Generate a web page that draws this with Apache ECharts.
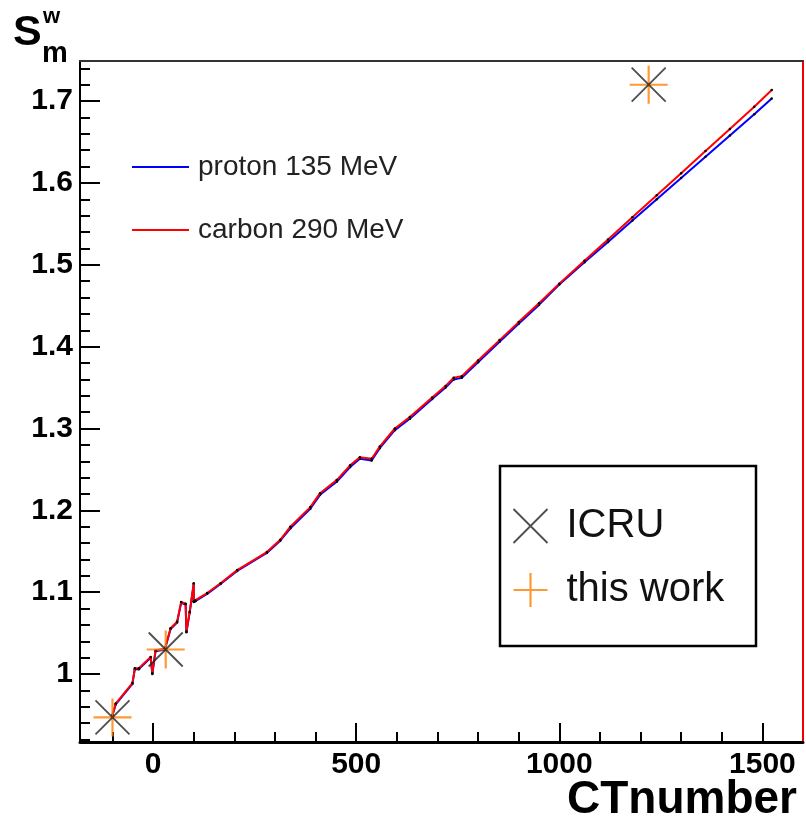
<!DOCTYPE html>
<html>
<head>
<meta charset="utf-8">
<script src="https://cdn.jsdelivr.net/npm/echarts@6/dist/echarts.min.js"></script>
<style>html,body{margin:0;padding:0;background:#fff}#c{width:806px;height:821px}</style>
</head>
<body>
<div id="c"></div>
<script>
// ---- data ----
const ctNumber = [-100, -92, -51, -45, -35, -6, -2, 6, 29, 43, 59, 69, 80, 82, 90, 100, 100, 104, 133, 166, 207, 280, 313, 338, 387, 411, 452, 485, 509, 538, 558, 595, 632, 687, 720, 740, 760, 800, 853, 900, 950, 1000, 1062, 1120, 1180, 1240, 1300, 1360, 1420, 1480, 1523];
const carbon290 = [0.950, 0.964, 0.989, 1.007, 1.007, 1.021, 1.001, 1.029, 1.031, 1.056, 1.064, 1.088, 1.086, 1.052, 1.076, 1.111, 1.089, 1.090, 1.099, 1.111, 1.127, 1.149, 1.164, 1.180, 1.204, 1.221, 1.237, 1.255, 1.265, 1.263, 1.278, 1.300, 1.314, 1.338, 1.352, 1.362, 1.364, 1.383, 1.408, 1.430, 1.453, 1.477, 1.505, 1.531, 1.558, 1.585, 1.612, 1.639, 1.666, 1.693, 1.7136];
const proton135 = [0.950, 0.963, 0.988, 1.006, 1.006, 1.020, 1.000, 1.028, 1.030, 1.055, 1.063, 1.087, 1.085, 1.051, 1.075, 1.110, 1.088, 1.089, 1.098, 1.110, 1.126, 1.148, 1.163, 1.178, 1.202, 1.219, 1.235, 1.253, 1.263, 1.261, 1.276, 1.298, 1.312, 1.336, 1.350, 1.360, 1.362, 1.381, 1.406, 1.428, 1.451, 1.476, 1.503, 1.528, 1.554, 1.580, 1.606, 1.632, 1.658, 1.684, 1.7033];
const icruCT = [-100, 31, 1220];
const icruSw = [0.947, 1.030, 1.720];
const thisWorkCT = [-100, 31, 1220];
const thisWorkSw = [0.947, 1.030, 1.720];
const xMajorTicks = [0, 500, 1000, 1500];
const yMajorTicks = [1.0, 1.1, 1.2, 1.3, 1.4, 1.5, 1.6, 1.7];

const xMinorTicks = [];
for (let v = -100; v <= 1500; v += 100) if (v % 500 !== 0) xMinorTicks.push(v);
const yMinorTicks = [];
for (let k = 46; k <= 87; k++) { if (k % 5 !== 0) yMinorTicks.push(+(k * 0.02).toFixed(2)); }

const zip = (a, b) => a.map((v, i) => [v, b[i]]);

const X_PATH = 'path://M0,0L10,10M10,0L0,10';
const PLUS_PATH = 'path://M5,0L5,10M0,5L10,5';

const chart = echarts.init(document.getElementById('c'), null, {renderer: 'canvas'});
const FONT = '"Liberation Sans", Arial, Helvetica, sans-serif';
const XMIN = -180, XMAX = 1600, YMIN = 0.917, YMAX = 1.749;

chart.setOption({
  animation: false,
  backgroundColor: '#fff',
  grid: {left: 80, right: 3, top: 61, bottom: 79, containLabel: false},
  xAxis: [
    { type: 'value', min: XMIN, max: XMAX, position: 'bottom',
      axisLine: {show: true, onZero: false, lineStyle: {color: '#000', width: 3}},
      axisTick: {show: true, inside: true, length: 19, customValues: xMajorTicks, lineStyle: {color: '#000', width: 2}},
      axisLabel: {show: true, customValues: xMajorTicks, margin: 8, fontFamily: FONT, fontWeight: 'bold', fontSize: 30, color: '#000',
        formatter: v => String(Math.round(v))},
      splitLine: {show: false} },
    { type: 'value', min: XMIN, max: XMAX, position: 'bottom', gridIndex: 0,
      axisLine: {show: false, onZero: false},
      axisTick: {show: true, inside: true, length: 10, customValues: xMinorTicks, lineStyle: {color: '#000', width: 2}},
      axisLabel: {show: false}, splitLine: {show: false} },
    { type: 'value', min: XMIN, max: XMAX, position: 'top',
      axisLine: {show: true, onZero: false, lineStyle: {color: '#333', width: 2}},
      axisTick: {show: false}, axisLabel: {show: false}, splitLine: {show: false} }
  ],
  yAxis: [
    { type: 'value', min: YMIN, max: YMAX, position: 'left',
      axisLine: {show: true, onZero: false, lineStyle: {color: '#000', width: 2}},
      axisTick: {show: true, inside: true, length: 20, customValues: yMajorTicks, lineStyle: {color: '#000', width: 2}},
      axisLabel: {show: true, customValues: yMajorTicks, margin: 7, fontFamily: FONT, fontWeight: 'bold', fontSize: 30, color: '#000',
        formatter: v => String(+v.toFixed(2))},
      splitLine: {show: false} },
    { type: 'value', min: YMIN, max: YMAX, position: 'left',
      axisLine: {show: false, onZero: false},
      axisTick: {show: true, inside: true, length: 10, customValues: yMinorTicks, lineStyle: {color: '#000', width: 2}},
      axisLabel: {show: false}, splitLine: {show: false} },
    { type: 'value', min: YMIN, max: YMAX, position: 'right',
      axisLine: {show: true, onZero: false, lineStyle: {color: '#e00', width: 2}},
      axisTick: {show: false}, axisLabel: {show: false}, splitLine: {show: false} }
  ],
  legend: [
    { orient: 'vertical', left: 127, top: 147, itemWidth: 57, itemHeight: 2, itemGap: 33,
      textStyle: {fontFamily: FONT, fontSize: 28, color: '#222', lineHeight: 30, padding: [0, 0, 0, 4]},
      data: [
        {name: 'proton 135 MeV', icon: 'rect', itemStyle: {color: '#0000ff', borderWidth: 0}},
        {name: 'carbon 290 MeV', icon: 'rect', itemStyle: {color: '#ff0000', borderWidth: 0}}
      ] },
    { orient: 'vertical', left: 506, top: 501, itemWidth: 36, itemHeight: 34, itemGap: 24,
      textStyle: {fontFamily: FONT, fontSize: 40, color: '#111', lineHeight: 40, padding: [0, 0, 0, 13]},
      data: [
        {name: 'ICRU', icon: X_PATH, itemStyle: {color: 'none', borderColor: '#222', borderWidth: 1.8}},
        {name: 'this work', icon: PLUS_PATH, itemStyle: {color: 'none', borderColor: '#ff8000', borderWidth: 2.2}}
      ] }
  ],
  graphic: [
    {type: 'rect', shape: {x: 500, y: 466, width: 256, height: 180}, style: {fill: 'none', stroke: '#000', lineWidth: 2.5}, z: 1},
    {type: 'text', left: 13, top: 12, style: {text: 'S', font: 'bold 43px ' + FONT, fill: '#000'}},
    {type: 'text', left: 43, top: 6, style: {text: 'w', font: 'bold 22px ' + FONT, fill: '#000'}},
    {type: 'text', left: 42, top: 39, style: {text: 'm', font: 'bold 29px ' + FONT, fill: '#000'}},
    {type: 'text', right: 9, top: 777, style: {text: 'CTnumber', font: 'bold 46px ' + FONT, fill: '#000'}}
  ],
  series: [
    { name: 'proton 135 MeV', type: 'line', xAxisIndex: 0, yAxisIndex: 0, data: zip(ctNumber, proton135),
      symbol: 'circle', symbolSize: 2.5, showSymbol: true, itemStyle: {color: '#000'},
      lineStyle: {color: '#0000ff', width: 2}, z: 3 },
    { name: 'carbon 290 MeV', type: 'line', xAxisIndex: 0, yAxisIndex: 0, data: zip(ctNumber, carbon290),
      symbol: 'circle', symbolSize: 2.5, showSymbol: true, itemStyle: {color: '#000'},
      lineStyle: {color: '#ff0000', width: 2}, z: 4 },
    { name: 'this work', type: 'scatter', xAxisIndex: 0, yAxisIndex: 0, data: zip(thisWorkCT, thisWorkSw),
      symbol: PLUS_PATH, symbolSize: 38, itemStyle: {color: 'none', borderColor: '#ff8000', borderWidth: 2.2}, z: 5 },
    { name: 'ICRU', type: 'scatter', xAxisIndex: 0, yAxisIndex: 0, data: zip(icruCT, icruSw),
      symbol: X_PATH, symbolSize: 34, itemStyle: {color: 'none', borderColor: '#222', borderWidth: 1.8}, z: 6 }
  ]
});
</script>
</body>
</html>
